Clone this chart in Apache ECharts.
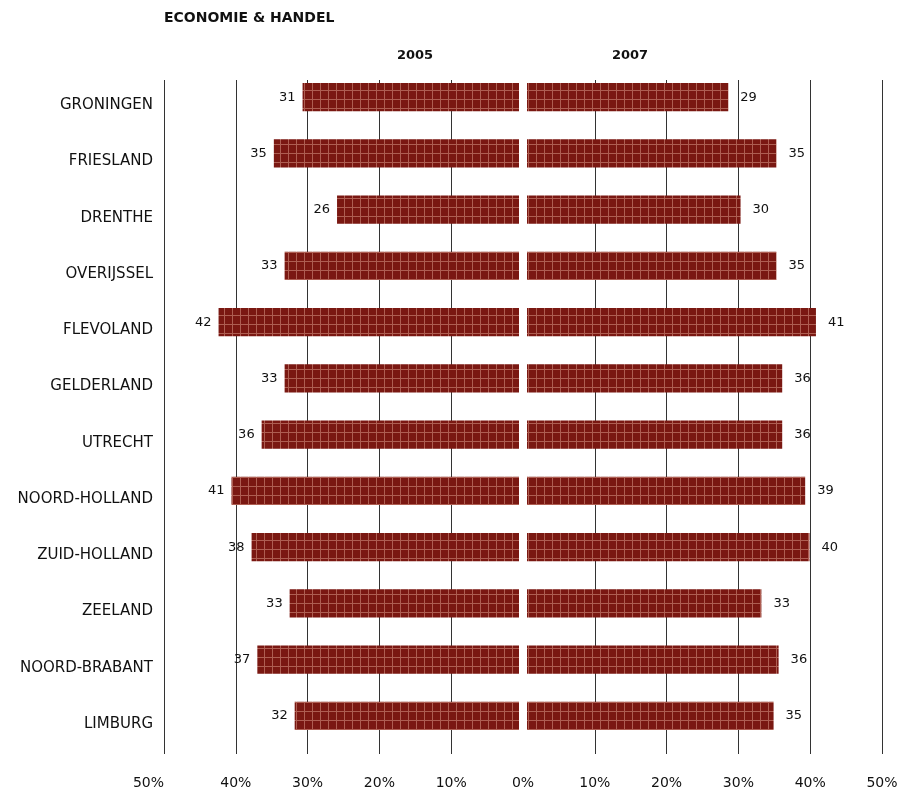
<!DOCTYPE html>
<html>
<head>
<meta charset="utf-8">
<style>
html,body{margin:0;padding:0;background:#fff;}
#chart{width:905px;height:797px;}
</style>
<script src="https://cdn.jsdelivr.net/npm/echarts@6/dist/echarts.min.js"></script>
</head>
<body>
<div id="chart"></div>
<script>
const categories = ['GRONINGEN','FRIESLAND','DRENTHE','OVERIJSSEL','FLEVOLAND','GELDERLAND','UTRECHT','NOORD-HOLLAND','ZUID-HOLLAND','ZEELAND','NOORD-BRABANT','LIMBURG'];
const values2005 = [30.7, 34.7, 25.9, 33.2, 42.4, 33.2, 36.4, 40.6, 37.8, 32.5, 37.0, 31.8];
const values2007 = [28.6, 35.3, 30.3, 35.3, 40.8, 36.1, 36.1, 39.3, 39.9, 33.2, 35.6, 34.9];
const tickValues = [0, 10, 20, 30, 40, 50];
const title = 'ECONOMIE & HANDEL';
const yearLabels = ['2005', '2007'];

const FONT = '"DejaVu Sans", sans-serif';

// bar pattern
const pc = document.createElement('canvas');
pc.width = 8; pc.height = 9;
const pctx = pc.getContext('2d');
pctx.fillStyle = '#7a1812';
pctx.fillRect(0, 0, 8, 9);
pctx.fillStyle = '#ae5e52';
pctx.fillRect(0, 0, 1, 9);
pctx.fillRect(0, 0, 8, 1);
const pattern = { image: pc, repeat: 'repeat' };

const chart = echarts.init(document.getElementById('chart'), null, { renderer: 'canvas' });

function makeRender(side) {
  return function (params, api) {
    const cat = api.value(0);
    const val = api.value(1);
    const start = api.coord([0, cat]);
    const end = api.coord([val, cat]);
    const h = api.size([0, 1])[1] * 0.5;
    const gap = 4;
    let x0, x1, tx, align;
    if (side === 'left') {
      x0 = end[0]; x1 = start[0] - gap;
      tx = end[0] - 7; align = 'right';
    } else {
      x0 = start[0] + gap; x1 = end[0];
      tx = end[0] + 12; align = 'left';
    }
    return {
      type: 'group',
      children: [
        { type: 'rect', shape: { x: x0, y: start[1] - h / 2, width: x1 - x0, height: h }, style: { fill: pattern } },
        { type: 'text', style: { text: String(Math.round(val)), x: tx, y: start[1], align: align, verticalAlign: 'middle', font: '13px ' + FONT, fill: '#111' } }
      ]
    };
  };
}

const barTop = 69, barHeight = 675;
const lineTop = 80, lineHeight = 674;
const zeroX = 523, halfW = 359;

chart.setOption({
  animation: false,
  backgroundColor: '#fff',
  graphic: [
    { type: 'text', left: 164, top: 11, style: { text: title, font: 'bold 14px ' + FONT, fill: '#111' } },
    { type: 'text', x: 415, y: 56, style: { text: yearLabels[0], font: 'bold 13px ' + FONT, fill: '#111', align: 'center', verticalAlign: 'middle' } },
    { type: 'text', x: 630, y: 56, style: { text: yearLabels[1], font: 'bold 13px ' + FONT, fill: '#111', align: 'center', verticalAlign: 'middle' } }
  ],
  grid: [
    { left: zeroX - halfW, top: barTop, width: halfW, height: barHeight },
    { left: zeroX, top: barTop, width: halfW, height: barHeight },
    { left: zeroX - halfW, top: lineTop, width: halfW, height: lineHeight },
    { left: zeroX, top: lineTop, width: halfW, height: lineHeight }
  ],
  xAxis: [
    { gridIndex: 0, type: 'value', min: 0, max: 50, interval: 10, inverse: true, show: false },
    { gridIndex: 1, type: 'value', min: 0, max: 50, interval: 10, show: false },
    { gridIndex: 2, type: 'value', min: tickValues[0], max: tickValues[5], interval: 10, inverse: true,
      axisLine: { show: false }, axisTick: { show: false },
      splitLine: { show: true, showMinLine: false, lineStyle: { color: '#333', width: 1 } },
      axisLabel: { showMinLabel: false, alignMaxLabel: 'right', margin: 22, fontFamily: FONT, fontSize: 14, color: '#111', formatter: v => v + '%' } },
    { gridIndex: 3, type: 'value', min: tickValues[0], max: tickValues[5], interval: 10,
      axisLine: { show: false }, axisTick: { show: false },
      splitLine: { show: true, showMinLine: false, lineStyle: { color: '#333', width: 1 } },
      axisLabel: { margin: 22, fontFamily: FONT, fontSize: 14, color: '#111', formatter: v => v + '%' } }
  ],
  yAxis: [
    { gridIndex: 0, type: 'category', data: categories, inverse: true,
      axisLine: { show: false }, axisTick: { show: false }, splitLine: { show: false },
      axisLabel: { margin: 11, fontFamily: FONT, fontSize: 15, color: '#111', verticalAlign: 'top', lineHeight: 16 } },
    { gridIndex: 1, type: 'category', data: categories, inverse: true, show: false },
    { gridIndex: 2, type: 'category', data: categories, show: false },
    { gridIndex: 3, type: 'category', data: categories, show: false }
  ],
  series: [
    { type: 'custom', xAxisIndex: 0, yAxisIndex: 0, renderItem: makeRender('left'), encode: { x: 1, y: 0 },
      data: values2005.map((v, i) => [i, v]), clip: false, z: 3 },
    { type: 'custom', xAxisIndex: 1, yAxisIndex: 1, renderItem: makeRender('right'), encode: { x: 1, y: 0 },
      data: values2007.map((v, i) => [i, v]), clip: false, z: 3 }
  ]
});
</script>
</body>
</html>
